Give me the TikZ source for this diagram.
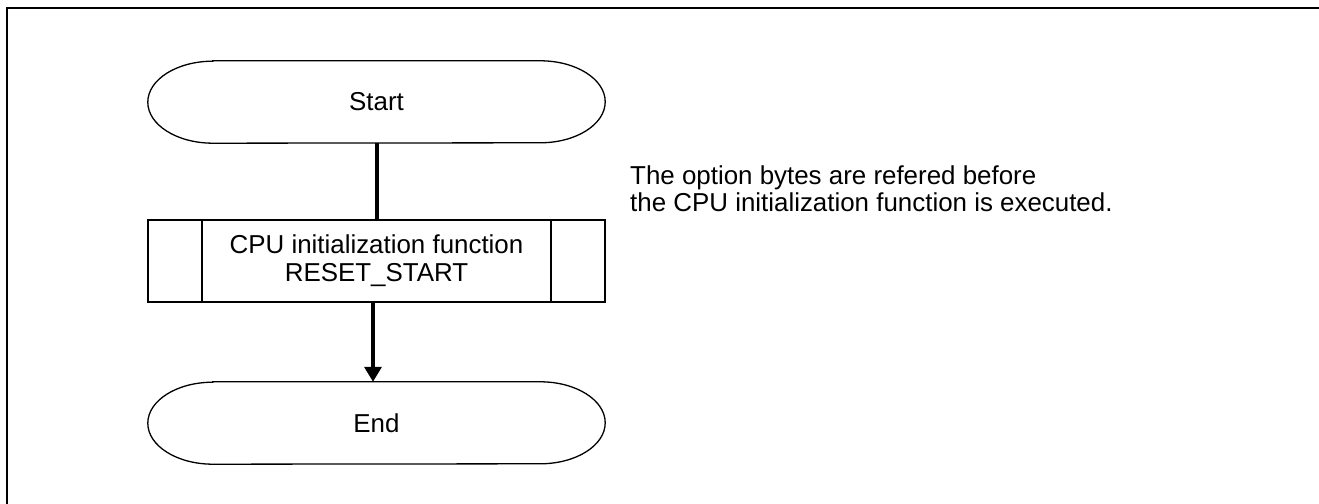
\documentclass[tikz,border=0pt]{standalone}
\usepackage{fontspec}
\setmainfont{Liberation Sans}
\usetikzlibrary{arrows.meta}
\tikzset{
  term/.style={minimum width=457bp, minimum height=82bp, inner sep=0pt, font=\fontsize{26}{28}\selectfont},
  procbox/.style={draw, line width=1.6bp, minimum width=457bp, minimum height=82bp, inner sep=0pt, align=center, font=\fontsize{26}{28}\selectfont},
  termline/.style={line width=1.3bp},
  conn/.style={line width=3.5bp},
  note/.style={anchor=north west, align=left, inner sep=0pt, font=\fontsize{26}{27}\selectfont},
}
\newcommand{\termshape}[1]{%
  \draw[termline] ([xshift=65bp]#1.north west) -- ([xshift=-65bp]#1.north east)
    arc[start angle=90,end angle=-90,x radius=65bp,y radius=41bp]
    -- ([xshift=65bp]#1.south west)
    arc[start angle=270,end angle=90,x radius=65bp,y radius=41bp] -- cycle;}
\begin{document}
\begin{tikzpicture}[x=1bp,y=1bp]
\useasboundingbox (0,0) rectangle (1319,504);
\draw[line width=2bp] (7,0) -- (7,496) -- (1319,496);
\node[term] (s) at (376.5,402) {Start};
\termshape{s}
\node[procbox] (p) at (376.5,243) {CPU initialization function\\RESET\_START};
\draw[line width=1.6bp] ([xshift=55bp]p.north west) -- ([xshift=55bp]p.south west);
\draw[line width=1.6bp] ([xshift=-55bp]p.north east) -- ([xshift=-55bp]p.south east);
\node[term] (e) at (376.5,81) {End};
\termshape{e}
\draw[conn] ([xshift=0.5bp]s.south) -- ([xshift=0.5bp]p.north);
\draw[conn,-{Triangle[width=17bp,length=15bp]}] ([xshift=-3.5bp]p.south) -- ([xshift=-3.5bp]e.north);
\node[note] (n) at (630,338) {The option bytes are refered before\\the CPU initialization function is executed.};
\end{tikzpicture}
\end{document}
